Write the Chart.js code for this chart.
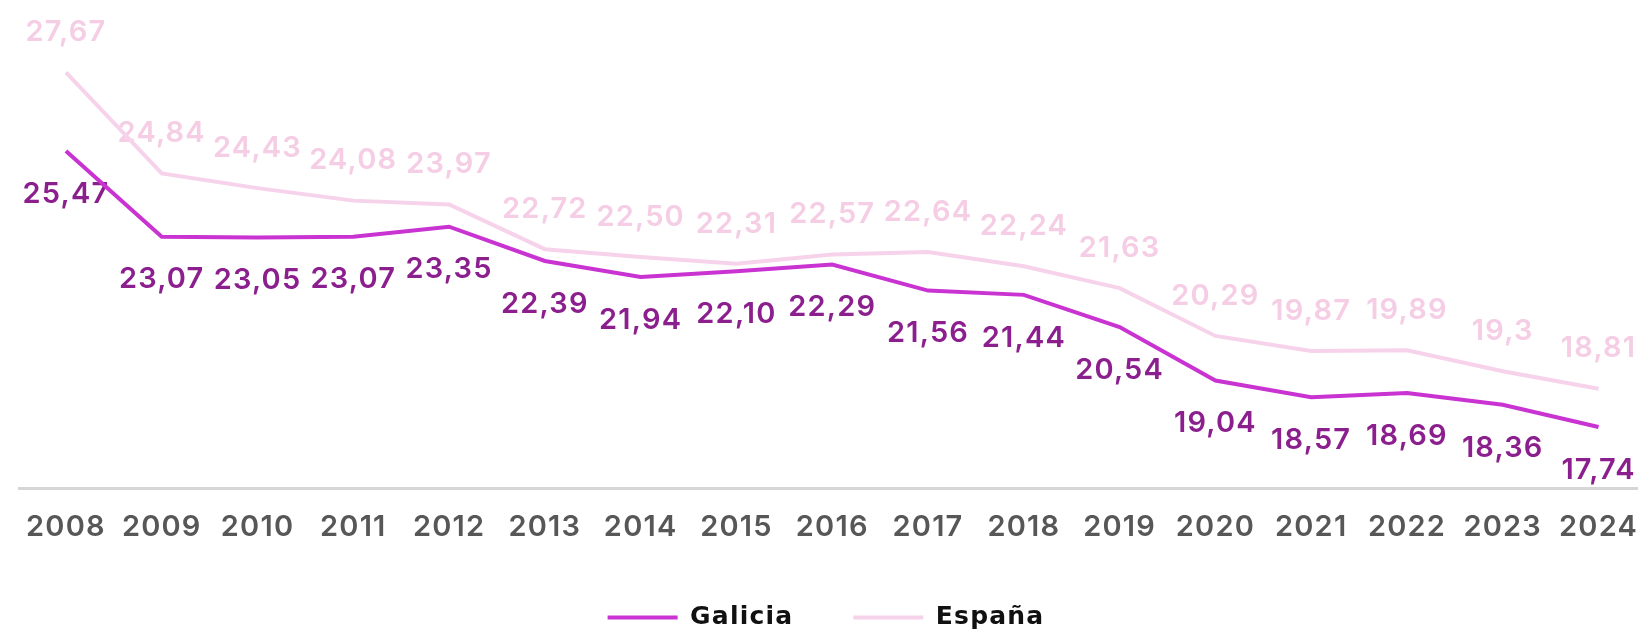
<!DOCTYPE html>
<html>
<head>
<meta charset="utf-8">
<script src="https://cdn.jsdelivr.net/npm/chart.js@4/dist/chart.umd.min.js"></script>
<style>
  html, body { margin: 0; padding: 0; background: #fff; overflow: hidden; }
  #wrap { width: 1652px; height: 632px; position: relative; }
</style>
</head>
<body>
<div id="wrap"><canvas id="plot"></canvas></div>
<script>
const years = ['2008','2009','2010','2011','2012','2013','2014','2015','2016','2017','2018','2019','2020','2021','2022','2023','2024'];
// labels as printed on the chart (comma decimals)
const galiciaText = ['25,47','23,07','23,05','23,07','23,35','22,39','21,94','22,10','22,29','21,56','21,44','20,54','19,04','18,57','18,69','18,36','17,74'];
const espanaText = ['27,67','24,84','24,43','24,08','23,97','22,72','22,50','22,31','22,57','22,64','22,24','21,63','20,29','19,87','19,89','19,3','18,81'];

const toNum = s => parseFloat(s.replace(',', '.'));
const galicia = galiciaText.map(toNum);
const espana = espanaText.map(toNum);

const GALICIA_LINE = '#c933d1';
const GALICIA_TEXT = '#8c1f8e';
const ESPANA_LINE = '#f6d3ea';
const ESPANA_TEXT = '#f5cde4';

const FONT = 'Inter';
const SPACING = '1.2px';

// wider tracking like the original font, for every text on the canvas
const tracking = {
  id: 'tracking',
  beforeUpdate(chart) { chart.ctx.letterSpacing = SPACING; },
  beforeDraw(chart) { chart.ctx.letterSpacing = SPACING; },
  afterLayout(chart) {
    // legend centred on the whole canvas, not on the padded area
    chart.legend.left = 0;
    chart.legend.right = chart.width;
  }
};

// value labels above / below each point
const valueLabels = {
  id: 'valueLabels',
  beforeDatasetsDraw(chart) {
    const ctx = chart.ctx;
    ctx.save();
    ctx.font = `600 29px ${FONT}`;
    ctx.textAlign = 'center';
    ctx.textBaseline = 'middle';
    chart.data.datasets.forEach((ds, i) => {
      const meta = chart.getDatasetMeta(i);
      ctx.fillStyle = ds.labelColor;
      meta.data.forEach((pt, j) => {
        ctx.fillText(ds.labelText[j], pt.x, pt.y + ds.labelOffset);
      });
    });
    ctx.restore();
  }
};

new Chart(document.getElementById('plot'), {
  type: 'line',
  data: {
    datasets: [
      { label: 'Galicia', data: galicia.map((v, i) => ({x: i, y: v})), borderColor: GALICIA_LINE, backgroundColor: GALICIA_LINE,
        borderWidth: 4, pointRadius: 0, tension: 0, labelText: galiciaText, labelColor: GALICIA_TEXT, labelOffset: 43 },
      { label: 'España', data: espana.map((v, i) => ({x: i, y: v})), borderColor: ESPANA_LINE, backgroundColor: ESPANA_LINE,
        borderWidth: 4, pointRadius: 0, tension: 0, labelText: espanaText, labelColor: ESPANA_TEXT, labelOffset: -40 }
    ]
  },
  options: {
    responsive: true,
    maintainAspectRatio: false,
    animation: false,
    layout: { padding: { left: 19, right: 0, top: 0, bottom: -8 } },
    plugins: {
      tooltip: { enabled: false },
      legend: {
        position: 'bottom',
        labels: {
          boxWidth: 70,
          boxHeight: 4,
          padding: 60,
          color: '#111',
          font: { family: 'DejaVu Sans', size: 25, weight: 'bold' },
          generateLabels: chart => chart.data.datasets.map((ds, i) => ({
            text: ds.label,
            fillStyle: ds.borderColor,
            strokeStyle: 'transparent',
            lineWidth: 0,
            hidden: !chart.isDatasetVisible(i),
            fontColor: '#111',
            datasetIndex: i
          }))
        }
      }
    },
    scales: {
      x: {
        type: 'linear',
        min: -0.49,
        max: 16.41,
        grid: { display: false },
        border: { display: true, color: '#d6d6d6', width: 3 },
        afterBuildTicks: scale => { scale.ticks = years.map((_, i) => ({ value: i })); },
        afterFit: scale => { scale.height = 57; },
        ticks: {
          autoSkip: false,
          maxRotation: 0,
          padding: 14,
          color: '#575757',
          font: { family: FONT, size: 29, weight: 600 },
          callback: v => years[v]
        }
      },
      y: {
        display: false,
        min: 16.03,
        max: 29.7
      }
    }
  },
  plugins: [tracking, valueLabels]
});
</script>
</body>
</html>
